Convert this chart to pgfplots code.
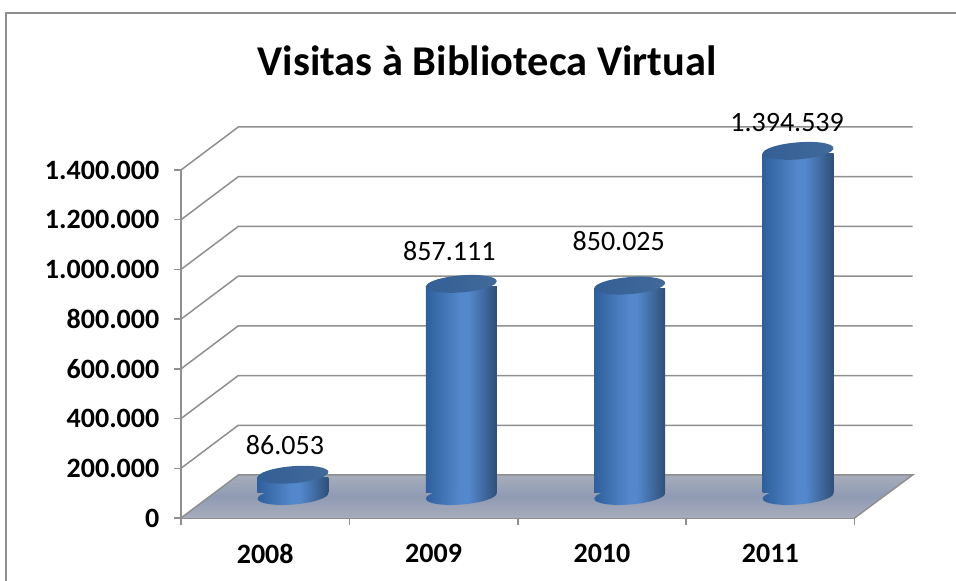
\documentclass[border=0pt]{standalone}
\usepackage{pgfplots}
\usepackage{pgfplotstable}
\pgfplotsset{compat=1.18}
\usepackage{fontspec}
\setmainfont{Carlito}
\definecolor{gridc}{HTML}{8F8F8F}
\definecolor{cL}{HTML}{2F5F9C}
\definecolor{cM}{HTML}{5388CC}
\definecolor{cR}{HTML}{2F4F78}
\definecolor{tL}{HTML}{345F96}
\definecolor{tR}{HTML}{416A9A}
\definecolor{floorb}{HTML}{A8ADBC}
\definecolor{floorm}{HTML}{8F9BB4}
\definecolor{floort}{HTML}{A6ADBB}
\pgfdeclarehorizontalshading{cyl}{100bp}{color(0bp)=(cL); color(25bp)=(cL); color(49bp)=(cM); color(55bp)=(cM); color(75bp)=(cR); color(100bp)=(cR)}
\pgfdeclarehorizontalshading{cyltop}{100bp}{color(0bp)=(tL); color(25bp)=(tL); color(75bp)=(tR); color(100bp)=(tR)}
\pgfdeclareverticalshading{floorsh}{100bp}{color(0bp)=(floorb); color(25bp)=(floorb); color(50bp)=(floorm); color(75bp)=(floort); color(100bp)=(floort)}
\newlength{\px}\setlength{\px}{0.75pt}
\pgfdeclareplotmark{cylbase}{\pgftransformrotate{4.6}\path[shading=cyl,draw=none] (canvas cs:x=0pt,y=0pt) ellipse (26.625pt and 6.375pt);}
\pgfdeclareplotmark{cyltopm}{\pgftransformrotate{4.6}\path[shading=cyltop,draw=none] (canvas cs:x=0pt,y=0pt) ellipse (26.625pt and 6.375pt);}
\pgfplotstableread{
x v
2008 86053
2009 857111
2010 850025
2011 1394539
}\visits
\pgfplotsset{vallabel/.style={only marks,mark=cyltopm,nodes near coords,
  nodes near coords style={font=\fontsize{21}{24}\selectfont,text=black,anchor=center,#1,
    /pgf/number format/.cd,fixed,precision=0,1000 sep={.},assume math mode=true}},
  cylbody/.style={ybar,bar width=71\px,draw=none,shading=cyl}}
\begin{document}
\begin{tikzpicture}
\useasboundingbox (0,0) rectangle (956\px,581\px);
\draw[gridc,line width=2\px] (6\px,-5\px) -- (6\px,568\px) -- (960\px,568\px);
\node[font=\fontsize{31.8}{36}\selectfont\bfseries,anchor=center] at (487\px,520\px) {Visitas à Biblioteca Virtual};
% frame: front plane, floor and walls
\begin{axis}[
  at={(181\px,63\px)},anchor=south west,
  scale only axis,width=673.5\px,height=348\px,
  xmin=0,xmax=4,ymin=0,ymax=1400000,
  clip=false,
  axis x line*=bottom,axis y line*=left,
  axis line style={gridc,line width=1.5\px,-},
  tick align=outside,
  tick style={gridc,line width=1.5\px},
  major tick length=7\px,
  xtick={0,1,2,3,4},
  x tick label as interval,
  xticklabels={2008,2009,2010,2011},
  ytick={0,200000,400000,600000,800000,1000000,1200000,1400000},
  scaled y ticks=false,
  tick label style={font=\fontsize{21}{24}\selectfont\bfseries},
  xticklabel style={yshift=-10.5pt},
  yticklabel style={xshift=-7.5pt},
  /pgf/number format/assume math mode=true,
  /pgf/number format/.cd,fixed,precision=0,1000 sep={.},
]
\addplot[draw=none,shading=floorsh] coordinates {(0,0) (4,0) (4.345,173000) (0.34,173000)} -- cycle;
\addplot[gridc,line width=1.5\px] coordinates {(4,0) (4.345,173000) (0.34,173000) (0,0)};
\addplot[gridc,line width=1.5\px] coordinates {(0,200000) (0.34,373000) (4.345,373000)};
\addplot[gridc,line width=1.5\px] coordinates {(0,400000) (0.34,573000) (4.345,573000)};
\addplot[gridc,line width=1.5\px] coordinates {(0,600000) (0.34,773000) (4.345,773000)};
\addplot[gridc,line width=1.5\px] coordinates {(0,800000) (0.34,973000) (4.345,973000)};
\addplot[gridc,line width=1.5\px] coordinates {(0,1000000) (0.34,1173000) (4.345,1173000)};
\addplot[gridc,line width=1.5\px] coordinates {(0,1200000) (0.34,1373000) (4.345,1373000)};
\addplot[gridc,line width=1.5\px] coordinates {(0,1400000) (0.34,1573000) (4.345,1573000)};
\end{axis}
% bar bodies: the axis is lowered so that the body ends inside the tilted ellipses
\begin{axis}[
  at={(181\px,88\px)},anchor=south west,
  scale only axis,width=673.5\px,height=345\px,
  xmin=2007.335,xmax=2011.335,ymin=24000,ymax=1418000,
  hide axis,
]
\addplot[cylbody] coordinates {(2008,86053)};
\addplot[cylbody] coordinates {(2009,857111)};
\addplot[cylbody] coordinates {(2010,850025)};
\addplot[cylbody] coordinates {(2011,1394539)};
\end{axis}
% ellipses and value labels
\begin{axis}[
  at={(181\px,85\px)},anchor=south west,
  scale only axis,width=673.5\px,height=345\px,
  xmin=2007.335,xmax=2011.335,ymin=0,ymax=1394000,
  hide axis,clip=false,
]
\addplot[only marks,mark=cylbase] table[x=x,y expr=0] {\visits};
\addplot[vallabel={xshift=-6pt,yshift=22.5pt}] coordinates {(2008,86053)};
\addplot[vallabel={xshift=-9pt,yshift=24.75pt}] coordinates {(2009,857111)};
\addplot[vallabel={xshift=-8.25pt,yshift=33.75pt}] coordinates {(2010,850025)};
\addplot[vallabel={xshift=-8.25pt,yshift=21pt}] coordinates {(2011,1394539)};
\end{axis}
\end{tikzpicture}
\end{document}
